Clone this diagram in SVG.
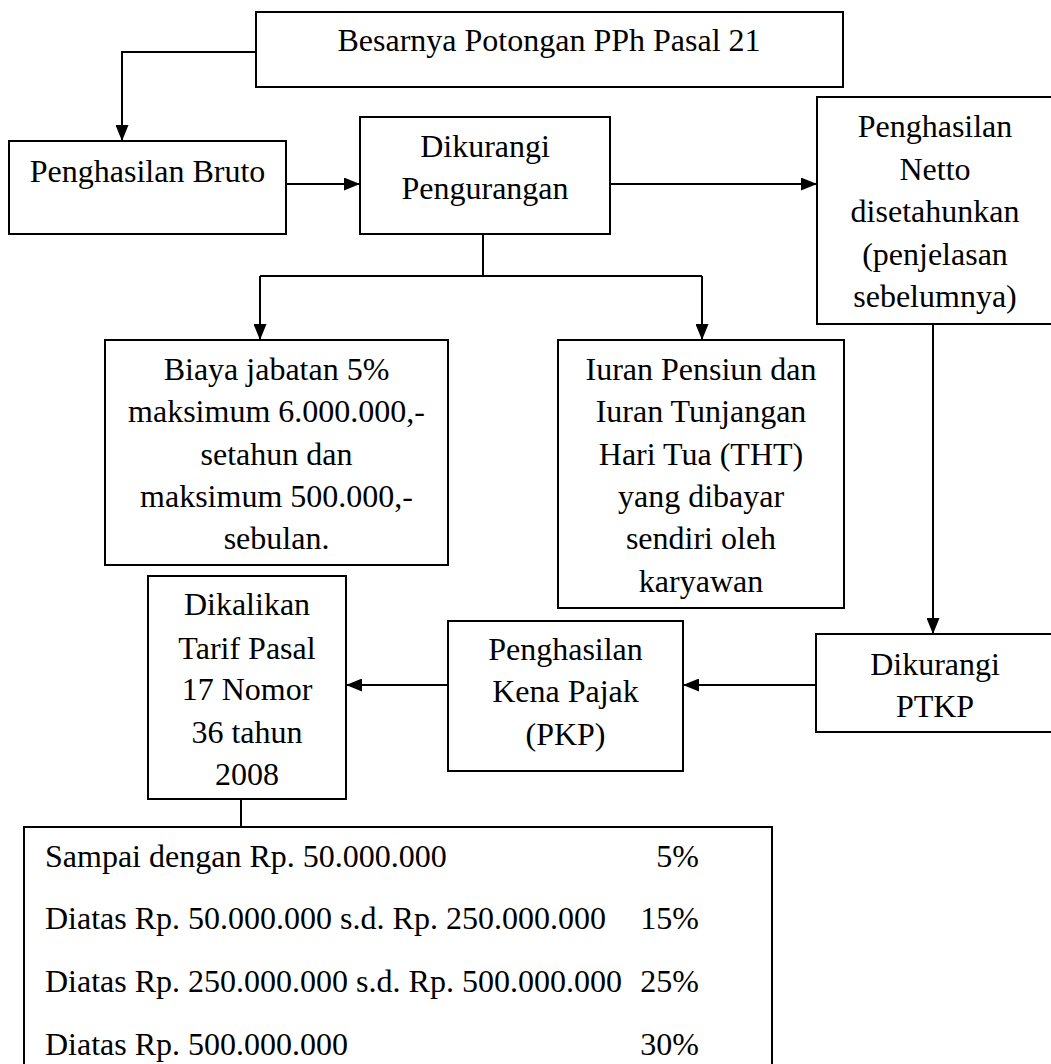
<svg xmlns="http://www.w3.org/2000/svg" width="1051" height="1064" viewBox="0 0 1051 1064">
<defs>
<marker id="ah" markerWidth="16" markerHeight="13" refX="16" refY="6.5" orient="auto" markerUnits="userSpaceOnUse">
<path d="M0,0 L16,6.5 L0,13 Z" fill="#000"/>
</marker>
</defs>
<rect width="1051" height="1064" fill="#fff"/>
<g id="connectors" fill="none" stroke="#000" stroke-width="2">
<path d="M256,52 H122 V141" marker-end="url(#ah)"/>
<path d="M286,184 H360" marker-end="url(#ah)"/>
<path d="M610,184 H817" marker-end="url(#ah)"/>
<path d="M483,234 V276"/>
<path d="M260,276 H702"/>
<path d="M260,276 V340" marker-end="url(#ah)"/>
<path d="M702,276 V340" marker-end="url(#ah)"/>
<path d="M933,324 V634" marker-end="url(#ah)"/>
<path d="M816,685 H683" marker-end="url(#ah)"/>
<path d="M448,685 H346" marker-end="url(#ah)"/>
<path d="M241,799 V827"/>
</g>
<g id="n-top">
<rect x="256" y="12" width="587" height="75" fill="#fff" stroke="#000" stroke-width="2"/>
<text x="549" y="51" font-family="Liberation Serif" font-size="32" text-anchor="middle">Besarnya Potongan PPh Pasal 21</text>
</g>
<g id="n-bruto">
<rect x="9" y="141" width="277" height="93" fill="#fff" stroke="#000" stroke-width="2"/>
<text x="147.5" y="182" font-family="Liberation Serif" font-size="32" text-anchor="middle">Penghasilan Bruto</text>
</g>
<g id="n-pengurangan">
<rect x="360" y="117" width="250" height="117" fill="#fff" stroke="#000" stroke-width="2"/>
<text x="485" y="157" font-family="Liberation Serif" font-size="32" text-anchor="middle">Dikurangi</text>
<text x="485" y="199" font-family="Liberation Serif" font-size="32" text-anchor="middle">Pengurangan</text>
</g>
<g id="n-netto">
<rect x="817" y="97" width="250" height="227" fill="#fff" stroke="#000" stroke-width="2"/>
<text x="935" y="137" font-family="Liberation Serif" font-size="32" text-anchor="middle">Penghasilan</text>
<text x="935" y="180" font-family="Liberation Serif" font-size="32" text-anchor="middle">Netto</text>
<text x="935" y="222" font-family="Liberation Serif" font-size="32" text-anchor="middle">disetahunkan</text>
<text x="935" y="265" font-family="Liberation Serif" font-size="32" text-anchor="middle">(penjelasan</text>
<text x="935" y="307" font-family="Liberation Serif" font-size="32" text-anchor="middle">sebelumnya)</text>
</g>
<g id="n-biaya">
<rect x="105" y="340" width="343" height="225" fill="#fff" stroke="#000" stroke-width="2"/>
<text x="276.5" y="380" font-family="Liberation Serif" font-size="32" text-anchor="middle">Biaya jabatan 5%</text>
<text x="276.5" y="422" font-family="Liberation Serif" font-size="32" text-anchor="middle">maksimum 6.000.000,-</text>
<text x="276.5" y="465" font-family="Liberation Serif" font-size="32" text-anchor="middle">setahun dan</text>
<text x="276.5" y="507" font-family="Liberation Serif" font-size="32" text-anchor="middle">maksimum 500.000,-</text>
<text x="276.5" y="549" font-family="Liberation Serif" font-size="32" text-anchor="middle">sebulan.</text>
</g>
<g id="n-iuran">
<rect x="558" y="340" width="286" height="268" fill="#fff" stroke="#000" stroke-width="2"/>
<text x="701" y="380" font-family="Liberation Serif" font-size="32" text-anchor="middle">Iuran Pensiun dan</text>
<text x="701" y="422" font-family="Liberation Serif" font-size="32" text-anchor="middle">Iuran Tunjangan</text>
<text x="701" y="465" font-family="Liberation Serif" font-size="32" text-anchor="middle">Hari Tua (THT)</text>
<text x="701" y="507" font-family="Liberation Serif" font-size="32" text-anchor="middle">yang dibayar</text>
<text x="701" y="549" font-family="Liberation Serif" font-size="32" text-anchor="middle">sendiri oleh</text>
<text x="701" y="592" font-family="Liberation Serif" font-size="32" text-anchor="middle">karyawan</text>
</g>
<g id="n-ptkp">
<rect x="816" y="634" width="250" height="98" fill="#fff" stroke="#000" stroke-width="2"/>
<text x="935" y="675" font-family="Liberation Serif" font-size="32" text-anchor="middle">Dikurangi</text>
<text x="935" y="717" font-family="Liberation Serif" font-size="32" text-anchor="middle">PTKP</text>
</g>
<g id="n-pkp">
<rect x="448" y="621" width="235" height="150" fill="#fff" stroke="#000" stroke-width="2"/>
<text x="565.5" y="660" font-family="Liberation Serif" font-size="32" text-anchor="middle">Penghasilan</text>
<text x="565.5" y="702" font-family="Liberation Serif" font-size="32" text-anchor="middle">Kena Pajak</text>
<text x="565.5" y="745" font-family="Liberation Serif" font-size="32" text-anchor="middle">(PKP)</text>
</g>
<g id="n-tarif">
<rect x="148" y="576" width="198" height="223" fill="#fff" stroke="#000" stroke-width="2"/>
<text x="247" y="615" font-family="Liberation Serif" font-size="32" text-anchor="middle">Dikalikan</text>
<text x="247" y="659" font-family="Liberation Serif" font-size="32" text-anchor="middle">Tarif Pasal</text>
<text x="247" y="700" font-family="Liberation Serif" font-size="32" text-anchor="middle">17 Nomor</text>
<text x="247" y="743" font-family="Liberation Serif" font-size="32" text-anchor="middle">36 tahun</text>
<text x="247" y="785" font-family="Liberation Serif" font-size="32" text-anchor="middle">2008</text>
</g>
<g id="n-table">
<rect x="24" y="827" width="748" height="260" fill="#fff" stroke="#000" stroke-width="2"/>
<text x="45" y="867" font-family="Liberation Serif" font-size="32">Sampai dengan Rp. 50.000.000</text>
<text x="699" y="867" font-family="Liberation Serif" font-size="32" text-anchor="end">5%</text>
<text x="45" y="929" font-family="Liberation Serif" font-size="32">Diatas Rp. 50.000.000 s.d. Rp. 250.000.000</text>
<text x="699" y="929" font-family="Liberation Serif" font-size="32" text-anchor="end">15%</text>
<text x="45" y="992" font-family="Liberation Serif" font-size="32">Diatas Rp. 250.000.000 s.d. Rp. 500.000.000</text>
<text x="699" y="992" font-family="Liberation Serif" font-size="32" text-anchor="end">25%</text>
<text x="45" y="1055" font-family="Liberation Serif" font-size="32">Diatas Rp. 500.000.000</text>
<text x="699" y="1055" font-family="Liberation Serif" font-size="32" text-anchor="end">30%</text>
</g>
</svg>
